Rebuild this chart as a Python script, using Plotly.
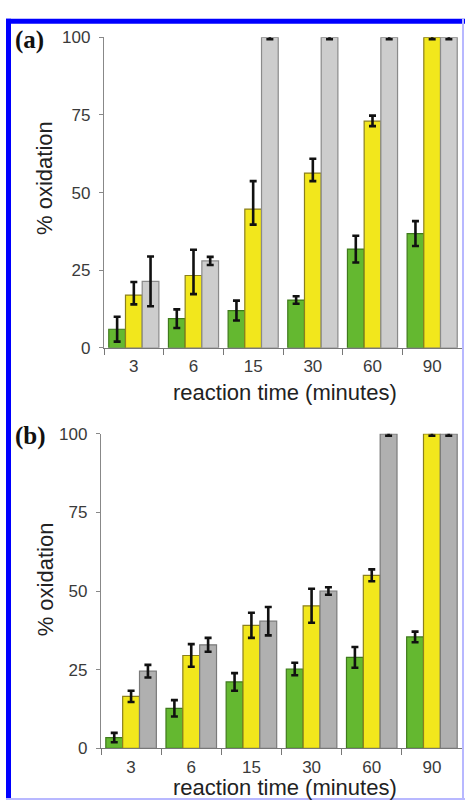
import plotly.graph_objects as go

W, H = 465, 810

categories = ["3", "6", "15", "30", "60", "90"]

# Panel (a)
a_green = [6.0, 9.4, 12.0, 15.4, 31.8, 36.8]
a_green_err = [4.0, 3.0, 3.2, 1.2, 4.3, 4.0]
a_yellow = [17.0, 23.3, 44.7, 56.3, 73.0, 100.0]
a_yellow_err_plus = [4.2, 8.3, 9.0, 4.6, 1.8, 0.6]
a_yellow_err_minus = [3.0, 6.0, 5.0, 2.6, 1.6, 0.6]
a_gray = [21.4, 28.0, 100.0, 100.0, 100.0, 100.0]
a_gray_err = [8.0, 1.3, 0.6, 0.6, 0.6, 0.6]

# Panel (b)
b_green = [3.4, 12.7, 21.1, 25.2, 28.9, 35.4]
b_green_err = [1.5, 2.6, 2.8, 2.0, 3.3, 1.7]
b_yellow = [16.5, 29.5, 39.1, 45.3, 55.0, 100.0]
b_yellow_err = [1.8, 3.6, 4.0, 5.4, 1.9, 0.6]
b_gray = [24.5, 32.9, 40.4, 50.0, 100.0, 100.0]
b_gray_err = [2.0, 2.2, 4.5, 1.2, 0.6, 0.6]

y_ticks = [0, 25, 50, 75, 100]

GREEN, GREEN_LINE = "#64b830", "#3f7a1c"
YELLOW, YELLOW_LINE = "#f2e71c", "#8a7f1e"
GRAY_A, GRAY_A_LINE = "#cdcdcd", "#8a8a8a"
GRAY_B, GRAY_B_LINE = "#b0b0b0", "#7a7a7a"


def px_x(p):
    return p / W


def px_y(p):
    return 1 - p / H


def err(arr, minus=None):
    d = dict(type="data", array=arr, visible=True, color="#111111",
             thickness=2.6, width=3.5)
    if minus is not None:
        d["symmetric"] = False
        d["arrayminus"] = minus
    return d


fig = go.Figure()

panels = [
    ("x", "y", [(a_green, err(a_green_err), GREEN, GREEN_LINE),
                (a_yellow, err(a_yellow_err_plus, a_yellow_err_minus), YELLOW, YELLOW_LINE),
                (a_gray, err(a_gray_err), GRAY_A, GRAY_A_LINE)]),
    ("x2", "y2", [(b_green, err(b_green_err), GREEN, GREEN_LINE),
                  (b_yellow, err(b_yellow_err), YELLOW, YELLOW_LINE),
                  (b_gray, err(b_gray_err), GRAY_B, GRAY_B_LINE)]),
]

for xa, ya, series in panels:
    for vals, e, col, lc in series:
        fig.add_trace(go.Bar(
            x=categories, y=vals, xaxis=xa, yaxis=ya,
            marker=dict(color=col, line=dict(color=lc, width=1.2)),
            error_y=e, cliponaxis=False, showlegend=False,
        ))

axis_font = dict(family="Liberation Sans, Arial, sans-serif", size=17, color="#3a3a3a")

common_x = dict(type="category", categoryorder="array", categoryarray=categories,
                range=[-0.5, 5.5], showline=True, linecolor="#777777", linewidth=1.3,
                ticks="outside", ticklen=6, tickcolor="#777777", tickwidth=1.3,
                tickson="boundaries", tickfont=axis_font, showgrid=False,
                zeroline=False, ticklabelstandoff=3)
common_y = dict(range=[0, 100], tickvals=y_ticks, showline=True, linecolor="#888888",
                linewidth=1.3, ticks="outside", ticklen=4, tickcolor="#888888",
                tickwidth=1.2, tickfont=axis_font, showgrid=False, zeroline=False,
                ticklabelstandoff=5)

fig.update_layout(
    width=W, height=H,
    margin=dict(l=0, r=0, t=0, b=0),
    paper_bgcolor="white", plot_bgcolor="white",
    barmode="group", bargap=0.16, bargroupgap=0.0,
    xaxis=dict(domain=[px_x(104), px_x(462)], anchor="y", **common_x),
    yaxis=dict(domain=[px_y(347), px_y(29)], anchor="x", **common_y),
    xaxis2=dict(domain=[px_x(101), px_x(462)], anchor="y2", **common_x),
    yaxis2=dict(domain=[px_y(757), px_y(435)], anchor="x2", **common_y),
)

title_font = dict(family="Liberation Sans, Arial, sans-serif", size=22, color="#222222")
label_font = dict(family="Liberation Serif, Times New Roman, serif", size=25, color="#111111")

for yc in (393, 797):
    fig.add_annotation(text="reaction time (minutes)", xref="paper", yref="paper",
                       x=px_x(285), y=px_y(yc), showarrow=False,
                       xanchor="center", yanchor="middle", font=title_font)

for yc in (173, 584):
    fig.add_annotation(text="% oxidation", xref="paper", yref="paper",
                       x=px_x(45), y=px_y(yc), showarrow=False, textangle=-90,
                       xanchor="center", yanchor="middle", font=title_font)

for lbl, yc in (("(a)", 32), ("(b)", 437)):
    fig.add_annotation(text="<b>%s</b>" % lbl, xref="paper", yref="paper",
                       x=px_x(13), y=px_y(yc), showarrow=False,
                       xanchor="left", yanchor="middle", font=label_font)

# Blue frame around the figure
frame = [
    (6, 10, 465, 15, "#0000ff"),
    (6, 10, 11, 810, "#0000ff"),
    (462, 10, 464, 810, "#b8b8ff"),
    (6, 808, 465, 810, "#b8b8ff"),
]
for x0, y0, x1, y1, c in frame:
    fig.add_shape(type="rect", xref="paper", yref="paper",
                  x0=px_x(x0), x1=px_x(x1), y0=px_y(y1), y1=px_y(y0),
                  fillcolor=c, line=dict(width=0), layer="above")

fig.write_html("out.html")
